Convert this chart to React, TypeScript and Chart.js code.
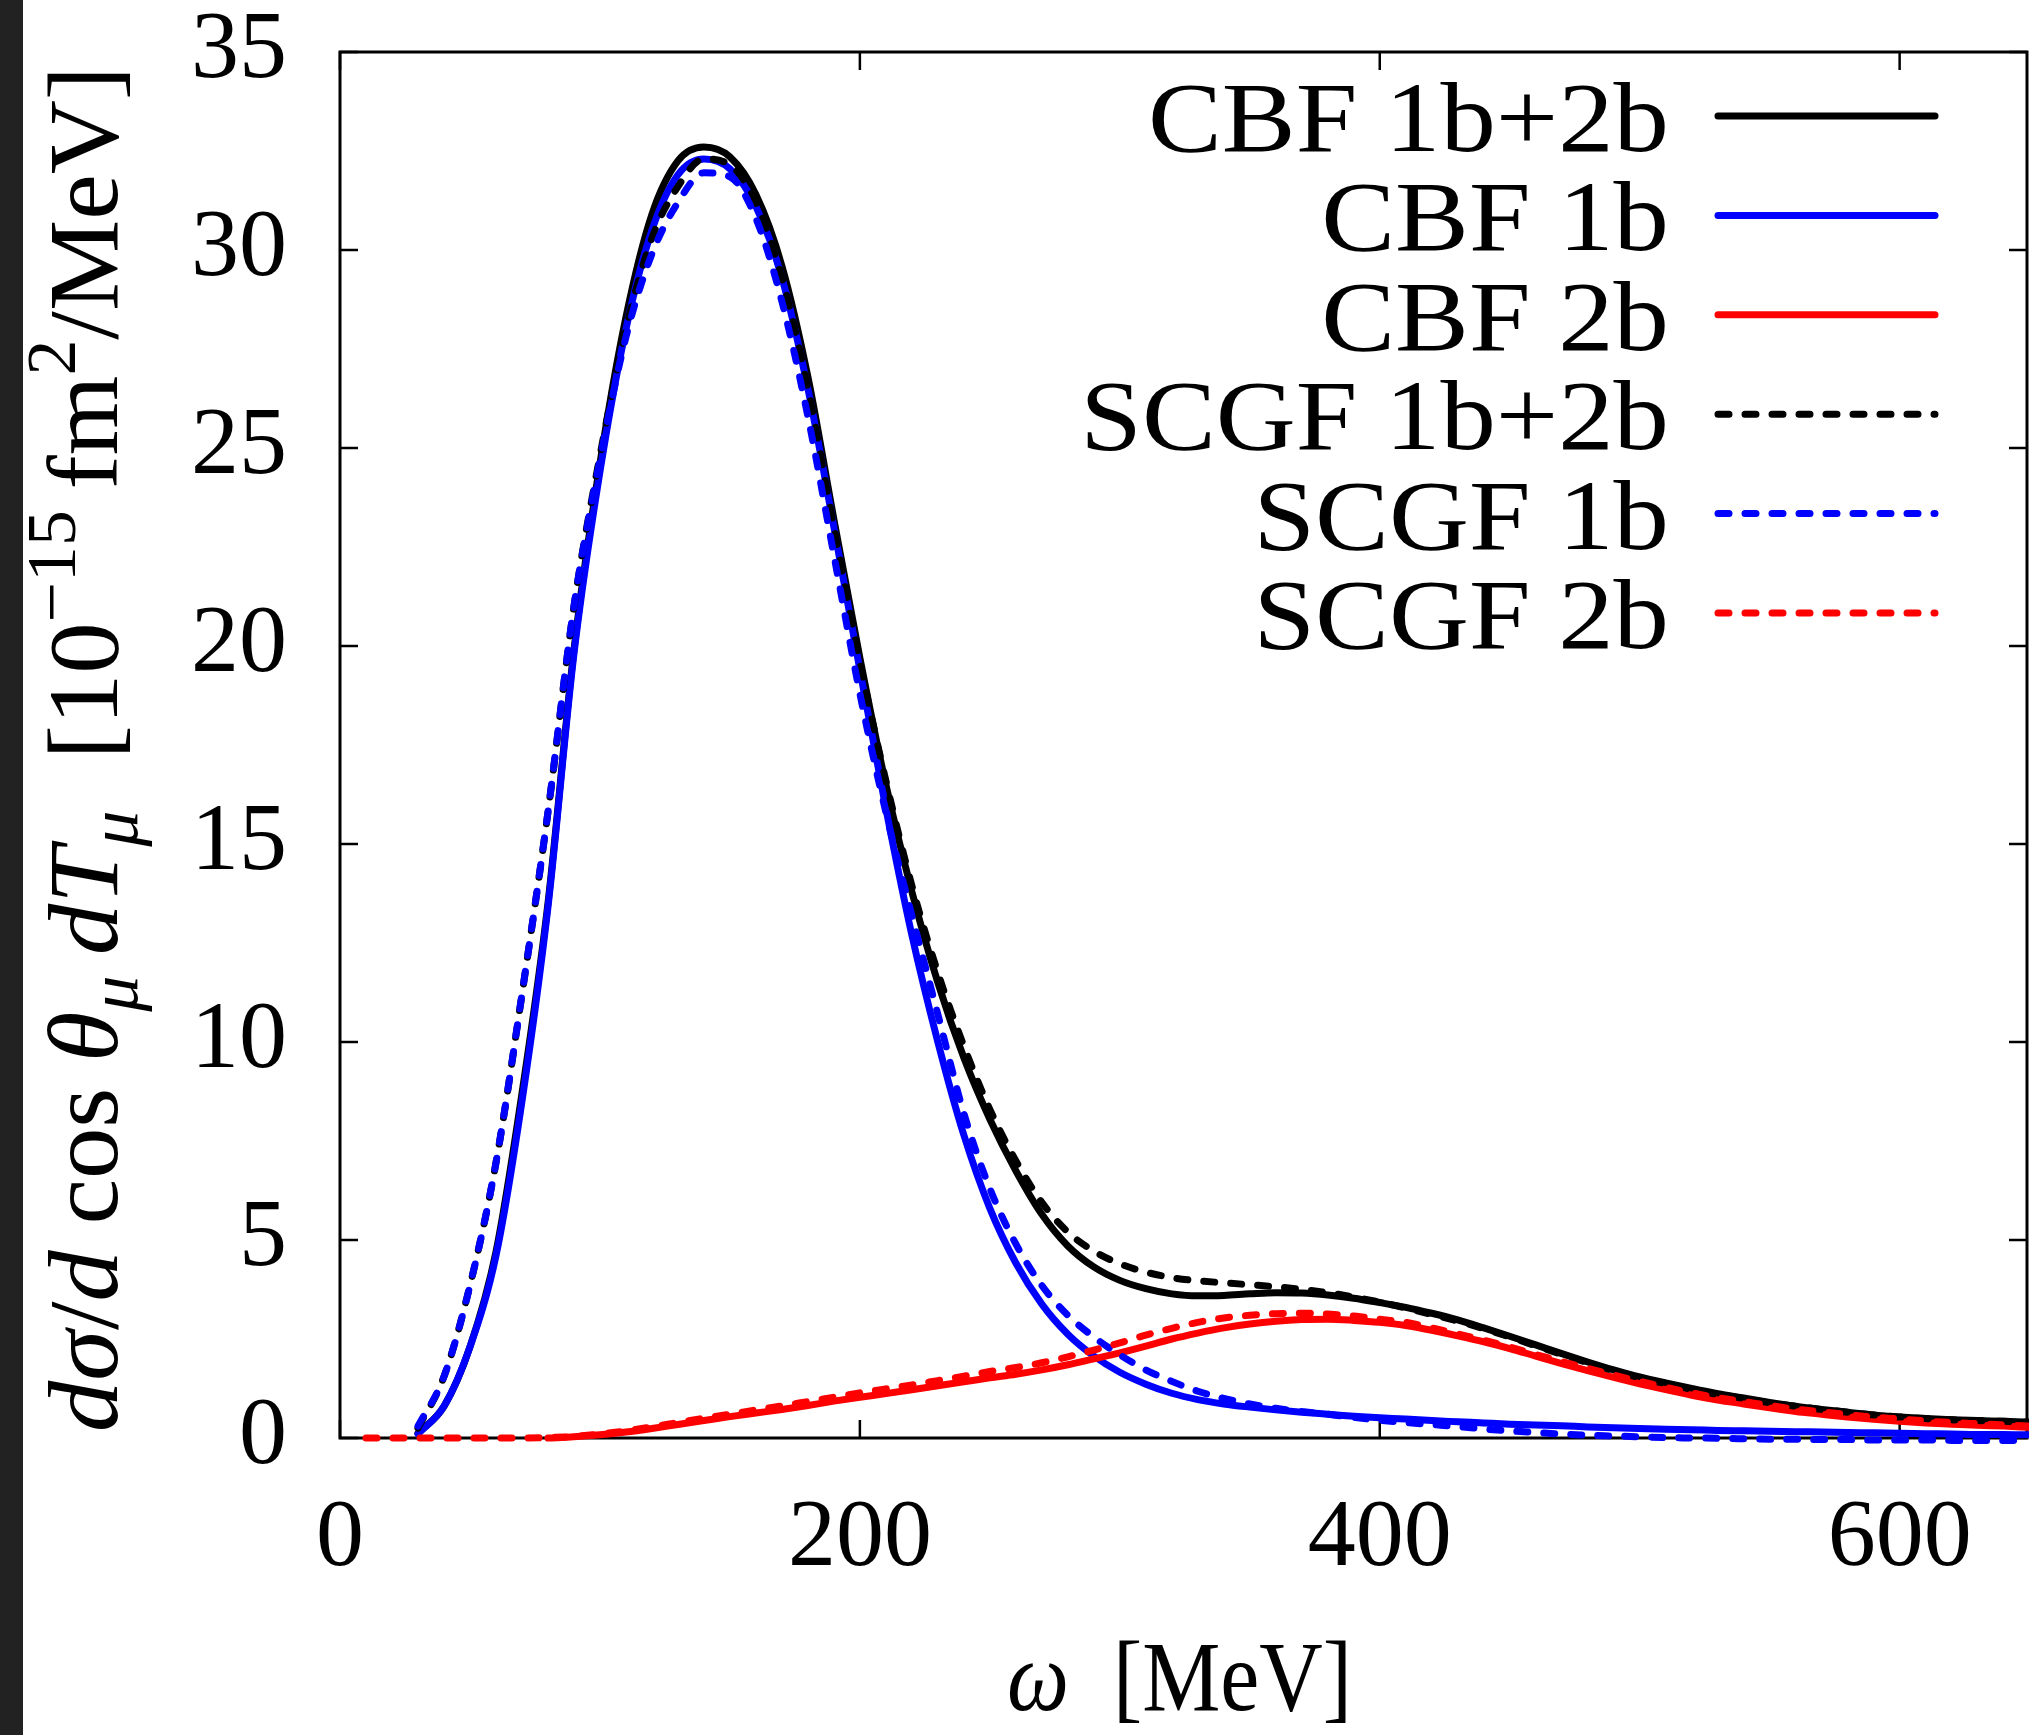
import React, { useEffect, useRef } from 'react';
import { Chart, registerables } from 'chart.js';

Chart.register(...registerables);

// ---------------- data ----------------
const omega = [
  10, 20, 30, 40, 50, 60, 70, 80, 90, 100,
  110, 120, 130, 140, 150, 160, 170, 180, 190, 200,
  210, 220, 230, 240, 250, 260, 270, 280, 290, 300,
  310, 320, 330, 340, 350, 360, 370, 380, 390, 400,
  410, 420, 430, 440, 450, 460, 470, 480, 490, 500,
  510, 520, 530, 540, 550, 560, 570, 580, 590, 600,
  610, 620, 630, 640, 650,
];

const cbfTotal = [
  null, null, 0.12, 0.8, 2.3, 4.7, 8.7, 13.5, 19.9, 24.6,
  28.3, 30.9, 32.25, 32.6, 32.35, 31.4, 29.6, 26.8, 23.2, 19.7,
  16.5, 13.8, 11.5, 9.6, 8.05, 6.75, 5.65, 4.85, 4.32, 3.98,
  3.77, 3.64, 3.59, 3.6, 3.64, 3.67, 3.66, 3.61, 3.53, 3.42,
  3.3, 3.15, 2.98, 2.78, 2.57, 2.35, 2.13, 1.92, 1.72, 1.54,
  1.39, 1.25, 1.12, 1.01, 0.9, 0.8, 0.72, 0.65, 0.58, 0.53,
  0.49, 0.46, 0.44, 0.42, 0.4,
];

const cbf1b = [
  null, null, 0.1, 0.8, 2.3, 4.6, 8.5, 13.4, 19.8, 24.4,
  28.0, 30.5, 31.9, 32.3, 32.05, 31.1, 29.3, 26.5, 23.0, 19.4,
  15.9, 12.7, 10.0, 7.65, 5.8, 4.42, 3.38, 2.62, 2.07, 1.66,
  1.36, 1.13, 0.97, 0.86, 0.78, 0.71, 0.65, 0.6, 0.55, 0.51,
  0.48, 0.44, 0.41, 0.38, 0.35, 0.33, 0.31, 0.28, 0.26, 0.24,
  0.22, 0.21, 0.19, 0.18, 0.17, 0.16, 0.15, 0.14, 0.13, 0.12,
  0.11, 0.1, 0.09, 0.09, 0.08,
];

const cbf2b = [
  null, null, null, null, null, null, null, 0, 0.03, 0.08,
  0.15, 0.24, 0.34, 0.44, 0.54, 0.63, 0.72, 0.82, 0.93, 1.03,
  1.12, 1.22, 1.32, 1.42, 1.52, 1.61, 1.72, 1.85, 2.0, 2.15,
  2.32, 2.5, 2.65, 2.78, 2.88, 2.95, 2.99, 3.0, 2.97, 2.92,
  2.84, 2.72, 2.58, 2.43, 2.26, 2.07, 1.88, 1.7, 1.53, 1.37,
  1.22, 1.08, 0.96, 0.86, 0.76, 0.67, 0.6, 0.53, 0.47, 0.42,
  0.38, 0.35, 0.32, 0.3, 0.27,
];

const scgfTotal = [
  null, null, 0.25, 1.55, 3.85, 6.95, 11.2, 15.8, 21.0, 24.8,
  28.0, 30.3, 31.6, 32.3, 32.15, 31.2, 29.3, 26.5, 23.0, 19.6,
  16.6, 13.95, 11.75, 9.9, 8.3, 7.0, 5.95, 5.2, 4.72, 4.4,
  4.19, 4.05, 3.97, 3.92, 3.87, 3.82, 3.75, 3.67, 3.56, 3.43,
  3.28, 3.12, 2.95, 2.76, 2.55, 2.33, 2.11, 1.9, 1.7, 1.52,
  1.37, 1.23, 1.1, 1.0, 0.89, 0.8, 0.72, 0.65, 0.58, 0.53,
  0.49, 0.46, 0.44, 0.42, 0.4,
];

const scgf1b = [
  null, null, 0.3, 1.55, 3.85, 6.95, 11.2, 15.8, 21.0, 24.7,
  27.8, 29.9, 31.2, 31.95, 31.85, 30.8, 28.7, 25.8, 22.3, 18.8,
  15.8, 13.2, 10.7, 8.2, 6.3, 4.9, 3.85, 3.1, 2.55, 2.1,
  1.72, 1.43, 1.18, 1.0, 0.86, 0.75, 0.67, 0.6, 0.52, 0.45,
  0.39, 0.34, 0.29, 0.23, 0.18, 0.14, 0.1, 0.07, 0.05, 0.03,
  0.01, 0.0, -0.01, -0.02, -0.03, -0.03, -0.04, -0.04, -0.05, -0.05,
  -0.05, -0.06, -0.06, -0.06, -0.07,
];

const scgf2b = [
  0, 0, 0, 0, 0, 0, 0, 0.01, 0.04, 0.1,
  0.18, 0.28, 0.39, 0.5, 0.6, 0.71, 0.81, 0.92, 1.03, 1.14,
  1.24, 1.34, 1.45, 1.56, 1.68, 1.78, 1.9, 2.05, 2.22, 2.4,
  2.6, 2.77, 2.92, 3.03, 3.1, 3.14, 3.15, 3.13, 3.08, 3.0,
  2.92, 2.78, 2.63, 2.47, 2.3, 2.11, 1.93, 1.76, 1.59, 1.43,
  1.28, 1.14, 1.02, 0.92, 0.82, 0.73, 0.66, 0.59, 0.53, 0.48,
  0.43, 0.39, 0.36, 0.33, 0.3,
];

const seriesLabels = ['CBF 1b+2b', 'CBF 1b', 'CBF 2b', 'SCGF 1b+2b', 'SCGF 1b', 'SCGF 2b'];
const seriesColors = ['#000000', '#0000ff', '#ff0000', '#000000', '#0000ff', '#ff0000'];
const seriesDashed = [false, false, false, true, true, true];
const seriesValues = [cbfTotal, cbf1b, cbf2b, scgfTotal, scgf1b, scgf2b];

const xTickStep = 200;
const yTickStep = 5;
const xMin = 0;
const xMax = 649;
const yMin = 0;
const yMax = 35;

// ---------------- layout / style ----------------
const W = 2029;
const H = 1735;
const FONT = "'Liberation Serif', 'Times New Roman', serif";
const AREA_LEFT = 340;
const AREA_TOP = 52;
const AREA_BOTTOM = 1438;
const LINE_W = 7;
const DASH = [11, 16];

type Run = { t: string; it?: boolean; sub?: boolean; sup?: boolean };

const yTitleRuns: Run[] = [
  { t: 'dσ', it: true },
  { t: '/' },
  { t: 'd', it: true },
  { t: ' cos ' },
  { t: 'θ', it: true },
  { t: 'μ', it: true, sub: true },
  { t: '\u2009dT', it: true },
  { t: 'μ', it: true, sub: true },
  { t: '  [10' },
  { t: '−15', sup: true },
  { t: '\u2009fm' },
  { t: '2', sup: true },
  { t: '/MeV]' },
];

const xTitleRuns: Run[] = [
  { t: 'ω', it: true },
  { t: '  [MeV]' },
];

function runFont(r: Run, size: number) {
  const s = r.sub || r.sup ? size * 0.7 : size;
  return `${r.it ? 'italic ' : ''}${s}px ${FONT}`;
}

function measureRuns(ctx: CanvasRenderingContext2D, runs: Run[], size: number) {
  let w = 0;
  for (const r of runs) {
    ctx.font = runFont(r, size);
    w += ctx.measureText(r.t).width;
  }
  return w;
}

function drawRuns(ctx: CanvasRenderingContext2D, runs: Run[], size: number) {
  let x = 0;
  ctx.textAlign = 'left';
  ctx.textBaseline = 'alphabetic';
  for (const r of runs) {
    ctx.font = runFont(r, size);
    const dy = r.sub ? 0.2 * size : r.sup ? -0.42 * size : 0;
    ctx.fillText(r.t, x, dy);
    x += ctx.measureText(r.t).width;
  }
}

const framePlugin = {
  id: 'frame',
  beforeDatasetsDraw(chart: any) {
    const { ctx, chartArea, scales } = chart;
    const { left, right, top, bottom } = chartArea;
    const xs = scales.x;
    const ys = scales.y;
    ctx.save();
    ctx.strokeStyle = '#000';
    ctx.lineWidth = 3;
    ctx.strokeRect(left, top, right - left, bottom - top);
    ctx.lineWidth = 2.5;
    const L = 18;
    const seg = (a: number, b: number, c: number, d: number) => {
      ctx.beginPath();
      ctx.moveTo(a, b);
      ctx.lineTo(c, d);
      ctx.stroke();
    };
    xs.ticks.forEach((t: any) => {
      const px = xs.getPixelForValue(t.value);
      seg(px, bottom, px, bottom - L);
      seg(px, top, px, top + L);
    });
    ys.ticks.forEach((t: any) => {
      const py = ys.getPixelForValue(t.value);
      seg(left, py, left + L, py);
      seg(right, py, right - L, py);
    });
    ctx.restore();
  },
};

const textPlugin = {
  id: 'texts',
  afterDraw(chart: any) {
    const { ctx } = chart;
    ctx.save();
    ctx.fillStyle = '#000';

    // y-axis title (rotated)
    const ySize = 100;
    const yLen = measureRuns(ctx, yTitleRuns, ySize);
    const yTarget = 1366;
    ctx.save();
    ctx.translate(117, 1432);
    ctx.rotate(-Math.PI / 2);
    ctx.scale(yTarget / yLen, 1);
    drawRuns(ctx, yTitleRuns, ySize);
    ctx.restore();

    // x-axis title
    const xSize = 100;
    const xLen = measureRuns(ctx, xTitleRuns, xSize);
    const xTarget = 345;
    ctx.save();
    ctx.translate(1007, 1710);
    ctx.scale(xTarget / xLen, 1);
    drawRuns(ctx, xTitleRuns, xSize);
    ctx.restore();

    // legend
    const lSize = 100;
    ctx.font = `${lSize}px ${FONT}`;
    const sx = 521 / ctx.measureText(seriesLabels[0]).width;
    const textRight = 1669;
    const lineX0 = 1718;
    const lineX1 = 1935;
    const row0 = 116;
    const rowGap = 99.4;
    seriesLabels.forEach((lab, i) => {
      const ry = row0 + i * rowGap;
      ctx.save();
      ctx.translate(textRight, ry + 35);
      ctx.scale(sx, 1);
      ctx.font = `${lSize}px ${FONT}`;
      ctx.textAlign = 'right';
      ctx.textBaseline = 'alphabetic';
      ctx.fillText(lab, 0, 0);
      ctx.restore();
      ctx.save();
      ctx.strokeStyle = seriesColors[i];
      ctx.lineWidth = LINE_W;
      ctx.lineCap = 'round';
      ctx.setLineDash(seriesDashed[i] ? DASH : []);
      ctx.beginPath();
      ctx.moveTo(lineX0, ry);
      ctx.lineTo(lineX1, ry);
      ctx.stroke();
      ctx.restore();
    });
    ctx.restore();
  },
};

export default function App() {
  const ref = useRef<HTMLCanvasElement>(null);

  useEffect(() => {
    document.body.style.margin = '0';
    document.body.style.overflow = 'hidden';
    const canvas = ref.current;
    if (!canvas) return;

    const toPoints = (arr: (number | null)[]) =>
      omega
        .map((x, i) => ({ x, y: arr[i] }))
        .filter((p) => p.y !== null) as { x: number; y: number }[];

    const datasets = seriesLabels.map((label, i) => ({
      label,
      data: toPoints(seriesValues[i]),
      borderColor: seriesColors[i],
      backgroundColor: seriesColors[i],
      borderWidth: LINE_W,
      borderDash: seriesDashed[i] ? DASH : [],
      borderCapStyle: 'round' as const,
      borderJoinStyle: 'round' as const,
      pointRadius: 0,
      pointHoverRadius: 0,
      fill: false,
      tension: 0.4,
      cubicInterpolationMode: 'monotone' as const,
      clip: false as any,
      order: seriesLabels.length - 1 - i,
    }));

    const tickFont = { family: FONT, size: 96, lineHeight: 1 };

    const chart = new Chart(canvas, {
      type: 'line',
      data: { datasets },
      options: {
        responsive: false,
        maintainAspectRatio: false,
        devicePixelRatio: 1,
        animation: false,
        events: [],
        layout: { padding: { top: AREA_TOP, right: 2, bottom: 0, left: 0 } },
        plugins: {
          legend: { display: false },
          tooltip: { enabled: false },
          title: { display: false },
        },
        scales: {
          x: {
            type: 'linear',
            min: xMin,
            max: xMax,
            grid: { display: false, drawTicks: false },
            border: { display: false },
            ticks: {
              stepSize: xTickStep,
              includeBounds: false,
              autoSkip: false,
              maxRotation: 0,
              color: '#000',
              font: tickFont,
              padding: 54,
            },
            afterFit: (s: any) => {
              s.height = H - AREA_BOTTOM;
              s.paddingLeft = 0;
              s.paddingRight = 0;
            },
          },
          y: {
            type: 'linear',
            min: yMin,
            max: yMax,
            grid: { display: false, drawTicks: false },
            border: { display: false },
            ticks: {
              stepSize: yTickStep,
              color: '#000',
              font: tickFont,
              padding: 53,
            },
            afterFit: (s: any) => {
              s.width = AREA_LEFT;
              s.paddingTop = 0;
              s.paddingBottom = 0;
            },
          },
        },
      },
      plugins: [framePlugin, textPlugin],
    } as any);

    return () => chart.destroy();
  }, []);

  return (
    <div style={{ position: 'relative', width: W, height: H, background: '#ffffff', overflow: 'hidden' }}>
      <canvas
        ref={ref}
        width={W}
        height={H}
        style={{ position: 'absolute', left: 0, top: 0, width: W, height: H, display: 'block' }}
      />
      <div style={{ position: 'absolute', left: 0, top: 0, width: 23, height: H, background: '#222222' }} />
    </div>
  );
}
